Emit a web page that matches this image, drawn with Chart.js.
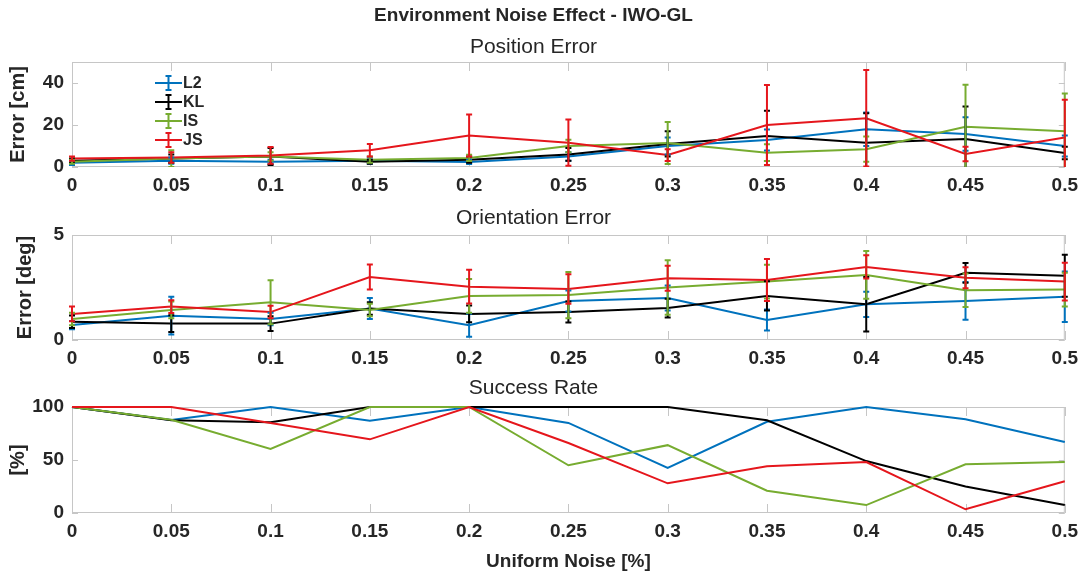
<!DOCTYPE html>
<html>
<head>
<meta charset="utf-8">
<title>Environment Noise Effect - IWO-GL</title>
<script src="https://cdn.jsdelivr.net/npm/chart.js@4.4.1/dist/chart.umd.min.js"></script>
<style>
  html, body { margin: 0; padding: 0; background: #fff; }
  #wrap { position: relative; width: 1085px; height: 577px; overflow: hidden; }
  canvas { position: absolute; left: 0; }
</style>
</head>
<body>
<div id="wrap">
  <canvas id="posChart" width="1085" height="200" style="top:0px"></canvas>
  <canvas id="oriChart" width="1085" height="172" style="top:200px"></canvas>
  <canvas id="rateChart" width="1085" height="205" style="top:372px"></canvas>
</div>
<script>
// x axis: noise levels
const noiseLevels = [0, 0.05, 0.1, 0.15, 0.2, 0.25, 0.3, 0.35, 0.4, 0.45, 0.5];
const noiseLabels = ['0', '0.05', '0.1', '0.15', '0.2', '0.25', '0.3', '0.35', '0.4', '0.45', '0.5'];

const seriesNames = ['L2', 'KL', 'IS', 'JS'];
const seriesColors = ['#0072BD', '#000000', '#77AC30', '#E5161C'];

// Position error [cm] (mean and half-width of error bars)
const posL2 = [2.0, 3.0, 2.5, 3.0, 2.4, 5.0, 10.0, 12.9, 18.0, 15.7, 10.0];
const posL2Err = [1.0, 1.5, 1.0, 1.5, 1.0, 2.0, 4.0, 5.0, 8.0, 8.0, 5.0];
const posKL = [3.0, 4.0, 5.0, 2.5, 3.5, 6.0, 11.0, 14.8, 11.6, 13.3, 6.7];
const posKLErr = [1.0, 2.0, 4.0, 1.0, 1.5, 3.0, 6.0, 12.0, 14.0, 15.5, 3.0];
const posIS = [2.5, 4.0, 5.0, 3.5, 4.3, 10.0, 11.4, 6.8, 8.5, 19.2, 17.0];
const posISErr = [1.0, 4.0, 2.0, 1.5, 1.5, 3.0, 10.0, 4.0, 6.0, 20.0, 18.0];
const posJS = [4.0, 4.5, 5.5, 8.0, 15.0, 11.6, 5.7, 20.0, 23.2, 6.2, 14.0];
const posJSErr = [1.0, 2.5, 4.0, 3.0, 10.0, 11.0, 2.8, 19.0, 23.0, 3.5, 18.0];

// Orientation error [deg]
const oriL2 = [0.71, 1.16, 1.0, 1.5, 0.7, 1.86, 2.0, 0.95, 1.7, 1.86, 2.06];
const oriL2Err = [0.2, 0.9, 0.3, 0.5, 0.55, 0.5, 0.6, 0.5, 0.6, 0.9, 1.2];
const oriKL = [0.87, 0.78, 0.78, 1.5, 1.24, 1.33, 1.52, 2.1, 1.7, 3.2, 3.06];
const oriKLErr = [0.3, 0.4, 0.35, 0.3, 0.4, 0.5, 0.45, 0.7, 1.3, 0.47, 1.0];
const oriIS = [1.0, 1.43, 1.8, 1.43, 2.1, 2.14, 2.5, 2.78, 3.1, 2.37, 2.4];
const oriISErr = [0.3, 0.4, 1.05, 0.3, 0.8, 1.1, 1.3, 0.8, 1.14, 0.8, 0.8];
const oriJS = [1.24, 1.59, 1.33, 3.0, 2.54, 2.43, 2.94, 2.86, 3.48, 2.97, 2.78];
const oriJSErr = [0.35, 0.3, 0.3, 0.6, 0.8, 0.7, 0.6, 1.0, 0.55, 0.5, 0.9];

// Success rate [%]
const rateL2 = [100, 87.7, 100, 87, 100, 85, 42.5, 86, 100, 88.5, 67];
const rateKL = [100, 87.5, 85.7, 100, 100, 100, 100, 87.5, 49, 25, 7.5];
const rateIS = [100, 88, 60.5, 100, 100, 45, 64, 21, 7.5, 46, 48];
const rateJS = [100, 100, 85, 69.5, 100, 66, 28, 44, 48, 3.5, 30];

// y tick labels
const posTicks = [0, 20, 40];
const oriTicks = [0, 5];
const rateTicks = [0, 50, 100];

const FONT = "'Liberation Sans', Arial, Helvetica, sans-serif";
const TEXT = '#262626';

// MATLAB-like box with inward tick marks
const boxPlugin = {
    id: 'box',
    beforeDatasetsDraw(chart) {
        const { ctx, chartArea: a, scales } = chart;
        ctx.save();
        ctx.strokeStyle = '#c6c6c6';
        ctx.lineWidth = 1;
        ctx.strokeRect(a.left + 0.5, a.top + 0.5, a.width - 1, a.height - 1);
        ctx.beginPath();
        scales.x.ticks.forEach((t) => {
            const px = Math.round(scales.x.getPixelForValue(t.value)) + 0.5;
            ctx.moveTo(px, a.bottom);
            ctx.lineTo(px, a.bottom - 9);
            ctx.moveTo(px, a.top);
            ctx.lineTo(px, a.top + 9);
        });
        scales.y.ticks.forEach((t) => {
            const py = Math.round(scales.y.getPixelForValue(t.value)) + 0.5;
            ctx.moveTo(a.left, py);
            ctx.lineTo(a.left + 6, py);
            ctx.moveTo(a.right, py);
            ctx.lineTo(a.right - 6, py);
        });
        ctx.stroke();
        ctx.restore();
    },
};

// vertical error bars with caps
const errorBarPlugin = {
    id: 'errorBars',
    afterDatasetsDraw(chart) {
        const { ctx, chartArea: a, scales: { x, y } } = chart;
        ctx.save();
        ctx.beginPath();
        ctx.rect(a.left - 4, a.top, a.width + 8, a.height);
        ctx.clip();
        chart.data.datasets.forEach((ds) => {
            if (!ds.errors) return;
            ctx.strokeStyle = ds.borderColor;
            ctx.lineWidth = 2;
            ds.data.forEach((p, i) => {
                const e = ds.errors[i];
                const px = x.getPixelForValue(p.x);
                const top = y.getPixelForValue(p.y + e);
                const bot = y.getPixelForValue(p.y - e);
                ctx.beginPath();
                ctx.moveTo(px, top);
                ctx.lineTo(px, bot);
                ctx.moveTo(px - 3, top);
                ctx.lineTo(px + 3, top);
                ctx.moveTo(px - 3, bot);
                ctx.lineTo(px + 3, bot);
                ctx.stroke();
            });
        });
        ctx.restore();
    },
};

// legend inside the first axes, errorbar style samples
const legendPlugin = {
    id: 'errLegend',
    afterDraw(chart) {
        const { ctx, chartArea: a } = chart;
        ctx.save();
        ctx.font = `bold 16px ${FONT}`;
        ctx.textBaseline = 'middle';
        chart.data.datasets.forEach((ds, i) => {
            const cy = a.top + 21 + i * 19;
            const x0 = a.left + 83;
            const x1 = a.left + 110;
            const cx = (x0 + x1) / 2;
            ctx.strokeStyle = ds.borderColor;
            ctx.lineWidth = 2;
            ctx.beginPath();
            ctx.moveTo(x0, cy);
            ctx.lineTo(x1, cy);
            ctx.moveTo(cx, cy - 7);
            ctx.lineTo(cx, cy + 7);
            ctx.moveTo(cx - 3, cy - 7);
            ctx.lineTo(cx + 3, cy - 7);
            ctx.moveTo(cx - 3, cy + 7);
            ctx.lineTo(cx + 3, cy + 7);
            ctx.stroke();
            ctx.fillStyle = TEXT;
            ctx.fillText(ds.label, x1 + 1, cy + 1);
        });
        ctx.restore();
    },
};

function makeDatasets(values, errors) {
    return seriesNames.map((name, i) => ({
        label: name,
        data: noiseLevels.map((x, j) => ({ x, y: values[i][j] })),
        errors: errors ? errors[i] : null,
        borderColor: seriesColors[i],
        backgroundColor: seriesColors[i],
        borderWidth: 2,
        pointRadius: 0,
        tension: 0,
        clip: 3,
        order: seriesNames.length - i,
    }));
}

function makeChart(id, cfg) {
    const plugins = [boxPlugin, errorBarPlugin];
    if (cfg.legend) plugins.push(legendPlugin);
    return new Chart(document.getElementById(id), {
        type: 'line',
        data: { datasets: makeDatasets(cfg.values, cfg.errors) },
        plugins,
        options: {
            responsive: false,
            animation: false,
            devicePixelRatio: 1,
            layout: { padding: { left: 0, right: 18, top: 0, bottom: 0 } },
            plugins: {
                legend: { display: false },
                tooltip: { enabled: false },
                title: cfg.title,
                subtitle: cfg.subtitle || { display: false },
            },
            scales: {
                x: {
                    type: 'linear',
                    min: 0,
                    max: 0.5,
                    afterBuildTicks: (s) => { s.ticks = noiseLevels.map((v) => ({ value: v })); },
                    afterFit: (s) => { s.height = cfg.xHeight; },
                    grid: { display: false, drawTicks: false },
                    border: { display: false },
                    ticks: {
                        autoSkip: false,
                        maxRotation: 0,
                        padding: 7,
                        color: TEXT,
                        font: { family: FONT, size: 19, weight: 'bold' },
                        callback: (v, i) => noiseLabels[i],
                    },
                    title: cfg.xTitle || { display: false },
                },
                y: {
                    min: cfg.yMin,
                    max: cfg.yMax,
                    afterBuildTicks: (s) => { s.ticks = cfg.yTicks.map((v) => ({ value: v })); },
                    afterFit: (s) => { s.width = 72; },
                    grid: { display: false, drawTicks: false },
                    border: { display: false },
                    ticks: {
                        padding: 8,
                        color: TEXT,
                        font: { family: FONT, size: 19, weight: 'bold' },
                    },
                    title: {
                        display: true,
                        text: cfg.yTitle,
                        color: TEXT,
                        font: { family: FONT, size: 20, weight: 'bold' },
                        padding: { top: cfg.yTitlePad, bottom: 0 },
                    },
                },
            },
        },
    });
}

makeChart('posChart', {
    values: [posL2, posKL, posIS, posJS],
    errors: [posL2Err, posKLErr, posISErr, posJSErr],
    legend: true,
    yMin: 0, yMax: 50, yTicks: posTicks,
    yTitle: 'Error [cm]', yTitlePad: 6,
    xHeight: 33,
    title: {
        display: true,
        text: 'Environment Noise Effect - IWO-GL',
        color: TEXT,
        font: { family: FONT, size: 19, weight: 'bold' },
        padding: { top: 4, bottom: 2 },
    },
    subtitle: {
        display: true,
        text: 'Position Error',
        color: TEXT,
        font: { family: FONT, size: 21, weight: 'normal' },
        padding: { top: 6, bottom: 2 },
    },
});

makeChart('oriChart', {
    values: [oriL2, oriKL, oriIS, oriJS],
    errors: [oriL2Err, oriKLErr, oriISErr, oriJSErr],
    yMin: 0, yMax: 5, yTicks: oriTicks,
    yTitle: 'Error [deg]', yTitlePad: 13,
    xHeight: 32,
    title: {
        display: true,
        text: 'Orientation Error',
        color: TEXT,
        font: { family: FONT, size: 21, weight: 'normal' },
        padding: { top: 5.4, bottom: 4.4 },
    },
});

makeChart('rateChart', {
    values: [rateL2, rateKL, rateIS, rateJS],
    errors: null,
    yMin: 0, yMax: 100, yTicks: rateTicks,
    yTitle: '[%]', yTitlePad: 6,
    xHeight: 64,
    title: {
        display: true,
        text: 'Success Rate',
        color: TEXT,
        font: { family: FONT, size: 21, weight: 'normal' },
        padding: { top: 3.4, bottom: 6.4 },
    },
    xTitle: {
        display: true,
        text: 'Uniform Noise [%]',
        color: TEXT,
        font: { family: FONT, size: 19, weight: 'bold' },
        padding: { top: 4, bottom: 4 },
    },
});
</script>
</body>
</html>
